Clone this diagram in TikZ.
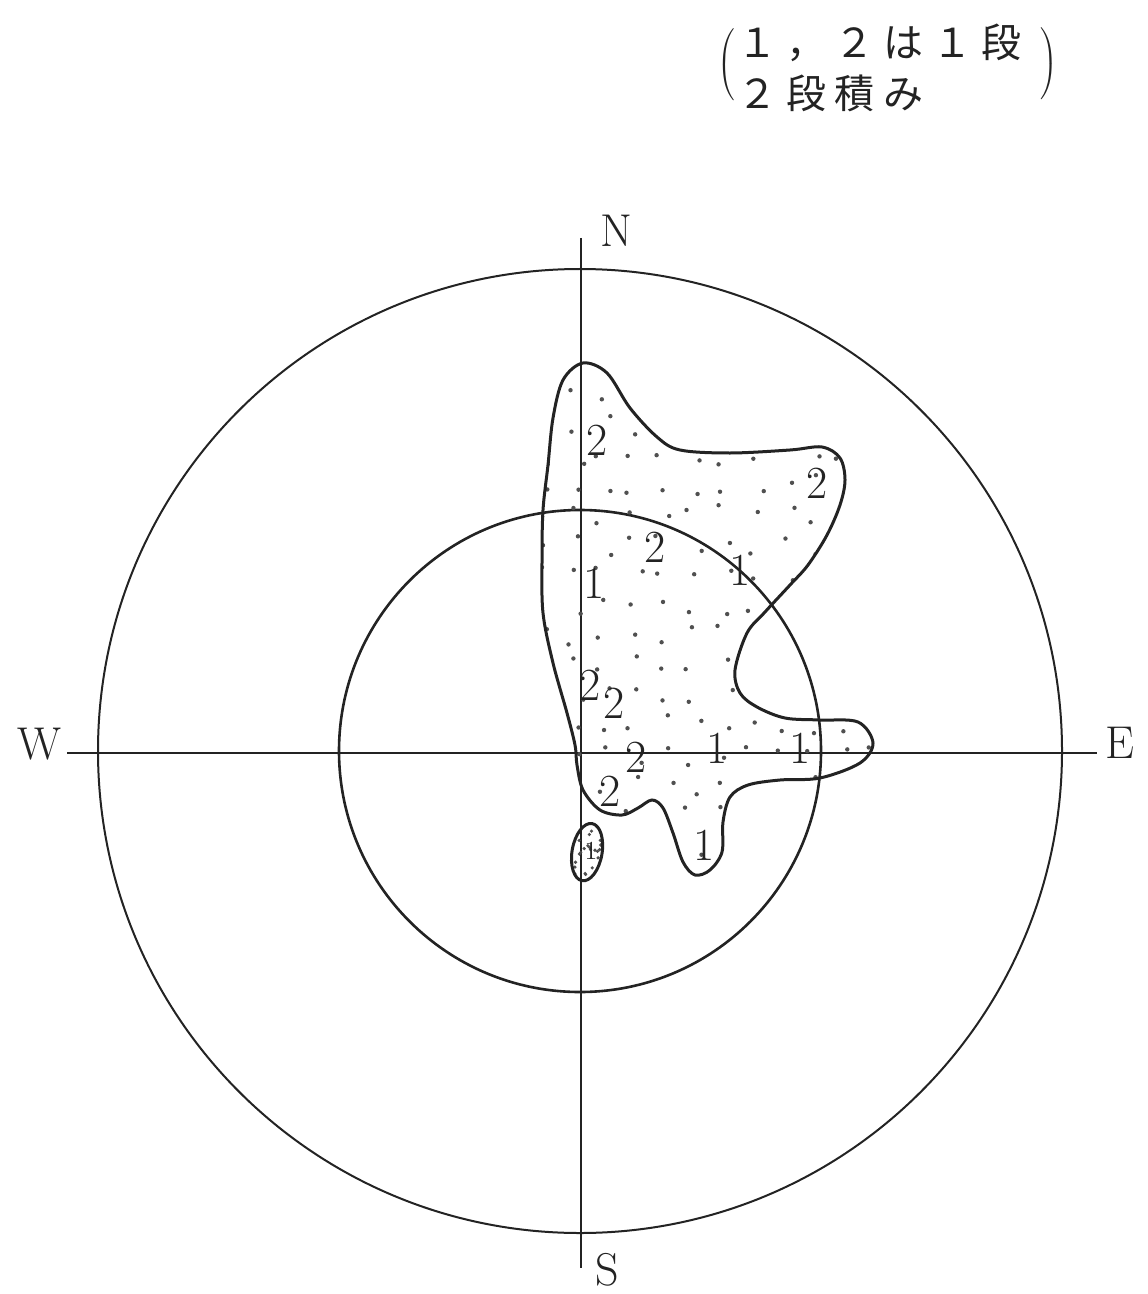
\documentclass[tikz,border=0pt]{standalone}
\usepackage{fontspec}
\usepackage{xcolor}
\usepackage{tikz}
\usetikzlibrary{calc}
\newfontfamily\cjk{Noto Sans CJK JP}[LetterSpace=22]
\definecolor{inkgray}{RGB}{35,35,35}
\definecolor{stipple}{RGB}{80,80,80}
\tikzset{
    ring/.style={draw=inkgray, line width=1pt},
    axis/.style={draw=inkgray, line width=0.9pt},
    blob/.style={draw=inkgray, line width=1.5pt},
    dirlabel/.style={font=\fontsize{23}{27}\selectfont, inner sep=0pt, text=inkgray},
    num/.style={font=\fontsize{23}{27}\selectfont, inner sep=0pt, text=inkgray},
    note/.style={font=\fontsize{20}{24}\selectfont\cjk, inner sep=0pt, anchor=west, text=inkgray}
}

\begin{document}
\begin{tikzpicture}[x=0.5pt, y=-0.5pt]
    \useasboundingbox (0,0) rectangle (1147,1294);

    % Note
    \node[inner sep=0pt, text=inkgray] (lpar) at (727,65) {$\left(\vrule height 16pt depth 16pt width 0pt\right.$};
    \node[inner sep=0pt, text=inkgray] (rpar) at (1048,64) {$\left.\vrule height 16pt depth 16pt width 0pt\right)$};
    \node[note] (line1) at (737,43) {１，２は１段};
    \node[note] (line2) at (737,93) {２段積み};

    % Rings
    \coordinate (O) at (580,751);
    \draw[ring] (O) circle[radius=241pt];
    \draw[ring, line width=1.3pt] (O) circle[radius=120.5pt];

    % Axes
    \coordinate (axN) at (581,238);
    \coordinate (axS) at (581,1268);
    \coordinate (axW) at (67,753);
    \coordinate (axE) at (1097,753);
    \draw[axis] (axN) -- (axS);
    \draw[axis] (axW) -- (axE);
    \node[dirlabel] (N) at (616,231) {N};
    \node[dirlabel] (S) at (607,1270) {S};
    \node[dirlabel] (W) at (39,744) {W};
    \node[dirlabel] (E) at (1120,743) {E};

    % Stippled zone
    \path[save path=\blobp] plot[smooth cycle, tension=0.55] coordinates {
        (583,363) (607,373) (630,408) (657,437) (680,450) (730,453) (790,450)
        (822,447) (840,458) (845,480) (840,505) (827,535) (808,565) (790,585)
        (765,612) (747,633) (735,670) (740,693) (757,707) (785,718) (820,720)
        (858,722) (873,743) (860,763) (820,778) (780,780) (748,785) (730,797)
        (723,822) (722,852) (710,870) (695,875) (683,862) (673,833) (663,808)
        (652,800) (638,808) (622,815) (600,810) (583,790) (577,765) (575,745)
        (567,713) (553,663) (543,613) (542,560) (543,510) (548,465) (553,418)
        (563,380)};
    \begin{scope}
        \clip[use path=\blobp];
        \pgfmathsetseed{7}
        \foreach \gx in {545,575,...,880}{
            \foreach \gy in {365,395,...,885}{
                \pgfmathsetmacro{\px}{\gx+20*rnd-10}
                \pgfmathsetmacro{\py}{\gy+20*rnd-10}
                \fill[stipple] (\px,\py) circle[radius=1.1pt];
            }
        }
    \end{scope}
    \draw[blob, use path=\blobp];

    % Small patch
    \coordinate (P) at (587,852);
    \begin{scope}
        \clip[rotate around={-10:(P)}] (P) ellipse[x radius=7.5pt, y radius=14.5pt];
        \foreach \k in {1,...,30}{
            \pgfmathsetmacro{\px}{570+34*rnd}
            \pgfmathsetmacro{\py}{822+60*rnd}
            \fill[stipple] (\px,\py) circle[radius=0.9pt];
        }
    \end{scope}
    \draw[blob, rotate around={-10:(P)}] (P) ellipse[x radius=7.5pt, y radius=14.5pt];
    \node[num, font=\fontsize{13}{15}\selectfont] (p1) at (591,851) {1};

    % Counts
    \node[num] (a1) at (597,440) {2};
    \node[num] (a2) at (817,483) {2};
    \node[num] (a3) at (655,547) {2};
    \node[num] (a4) at (594,583) {1};
    \node[num] (a5) at (740,570) {1};
    \node[num] (a6) at (590,685) {2};
    \node[num] (a7) at (614,703) {2};
    \node[num] (a8) at (636,757) {2};
    \node[num] (a9) at (610,791) {2};
    \node[num] (a10) at (717,748) {1};
    \node[num] (a11) at (800,748) {1};
    \node[num] (a12) at (704,845) {1};
\end{tikzpicture}
\end{document}
